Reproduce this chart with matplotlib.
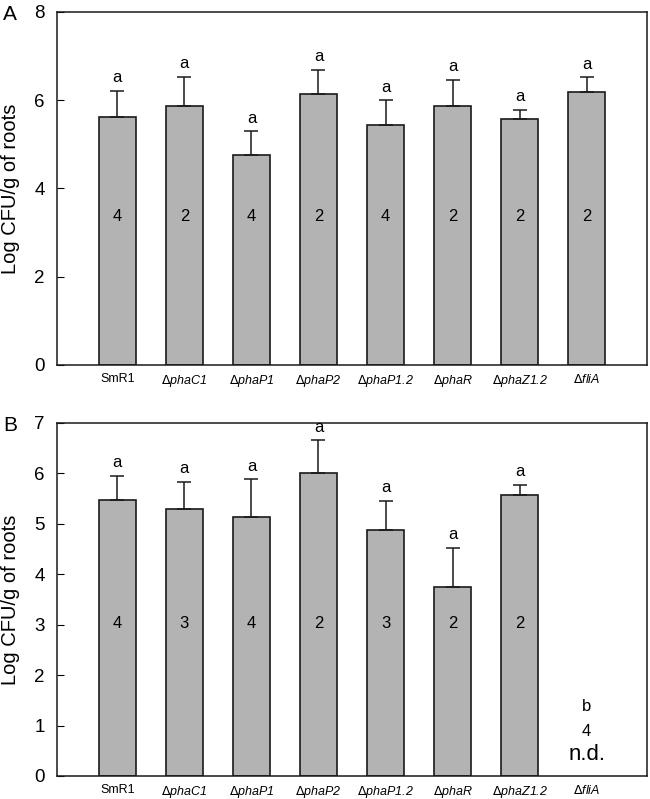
import numpy as np
import matplotlib
matplotlib.use('Agg')
import matplotlib.pyplot as plt

plt.rcParams['font.family'] = ['Liberation Sans', 'DejaVu Sans']

strains = ['SmR1', 'phaC1', 'phaP1', 'phaP2', 'phaP1.2', 'phaR', 'phaZ1.2', 'fliA']

# panel A
meanA = [5.61, 5.88, 4.77, 6.15, 5.44, 5.88, 5.57, 6.18]
errA = [0.60, 0.65, 0.53, 0.54, 0.56, 0.58, 0.21, 0.34]
letA = ['a', 'a', 'a', 'a', 'a', 'a', 'a', 'a']
nA = ['4', '2', '4', '2', '4', '2', '2', '2']

# panel B (fliA not detected)
meanB = [5.47, 5.29, 5.13, 6.00, 4.87, 3.75, 5.57, np.nan]
errB = [0.48, 0.54, 0.75, 0.66, 0.59, 0.78, 0.21, np.nan]
letB = ['a', 'a', 'a', 'a', 'a', 'a', 'a', 'b']
nB = ['4', '3', '4', '2', '3', '2', '2', '4']

xlabels = ['SmR1'] + [r'$\Delta$' + s for s in strains[1:]]


def panel(ax, mean, err, let, n, ymax, npos, tag):
    x = np.arange(len(mean))
    ax.bar(x, mean, width=0.55, color='#b3b3b3', edgecolor='#1a1a1a', linewidth=1.2, zorder=2)
    ax.errorbar(x, mean, yerr=[np.zeros(len(err)), err], fmt='none', ecolor='#1a1a1a',
                elinewidth=1.1, capsize=5, capthick=1.1, zorder=3)
    for i in range(len(mean)):
        if np.isnan(mean[i]):
            continue
        ax.annotate(let[i], (x[i], mean[i] + err[i]), xytext=(0, 4), textcoords='offset points',
                    ha='center', va='bottom', fontsize=12)
        ax.text(x[i], npos, n[i], ha='center', va='center', fontsize=12)
    ax.set_xlim(-0.9, 7.9)
    ax.set_ylim(0, ymax)
    ax.set_yticks(range(0, ymax + 1, 2 if ymax == 8 else 1))
    ax.tick_params(axis='y', direction='in', length=5, labelsize=13.5, pad=9)
    ax.tick_params(axis='x', length=0, labelsize=9, pad=6)
    ax.set_xticks(x)
    ax.set_xticklabels(xlabels)
    for lab in ax.get_xticklabels()[1:]:
        lab.set_fontstyle('italic')
    ax.set_ylabel('Log CFU/g of roots', fontsize=14.5)
    ax.yaxis.set_label_coords(-0.062, 0.5)
    for s in ax.spines.values():
        s.set_linewidth(1.1)
        s.set_color('#1a1a1a')
    ax.text(-0.08, 0.992, tag, transform=ax.transAxes, fontsize=15, ha='center', va='center')


fig = plt.figure(figsize=(6.5, 7.99), dpi=100)
axA = fig.add_axes([0.0877, 0.5432, 0.9077, 0.4418])
axB = fig.add_axes([0.0877, 0.0288, 0.9077, 0.4418])

panel(axA, meanA, errA, letA, nA, 8, 3.37, 'A')
panel(axB, meanB, errB, letB, nB, 7, 3.03, 'B')

# fliA in B: not detected
axB.text(7, 1.37, letB[7], ha='center', va='center', fontsize=12)
axB.text(7, 0.88, nB[7], ha='center', va='center', fontsize=12)
axB.text(7, 0.43, 'n.d.', ha='center', va='center', fontsize=16)

fig.savefig('out.png', dpi=100)
